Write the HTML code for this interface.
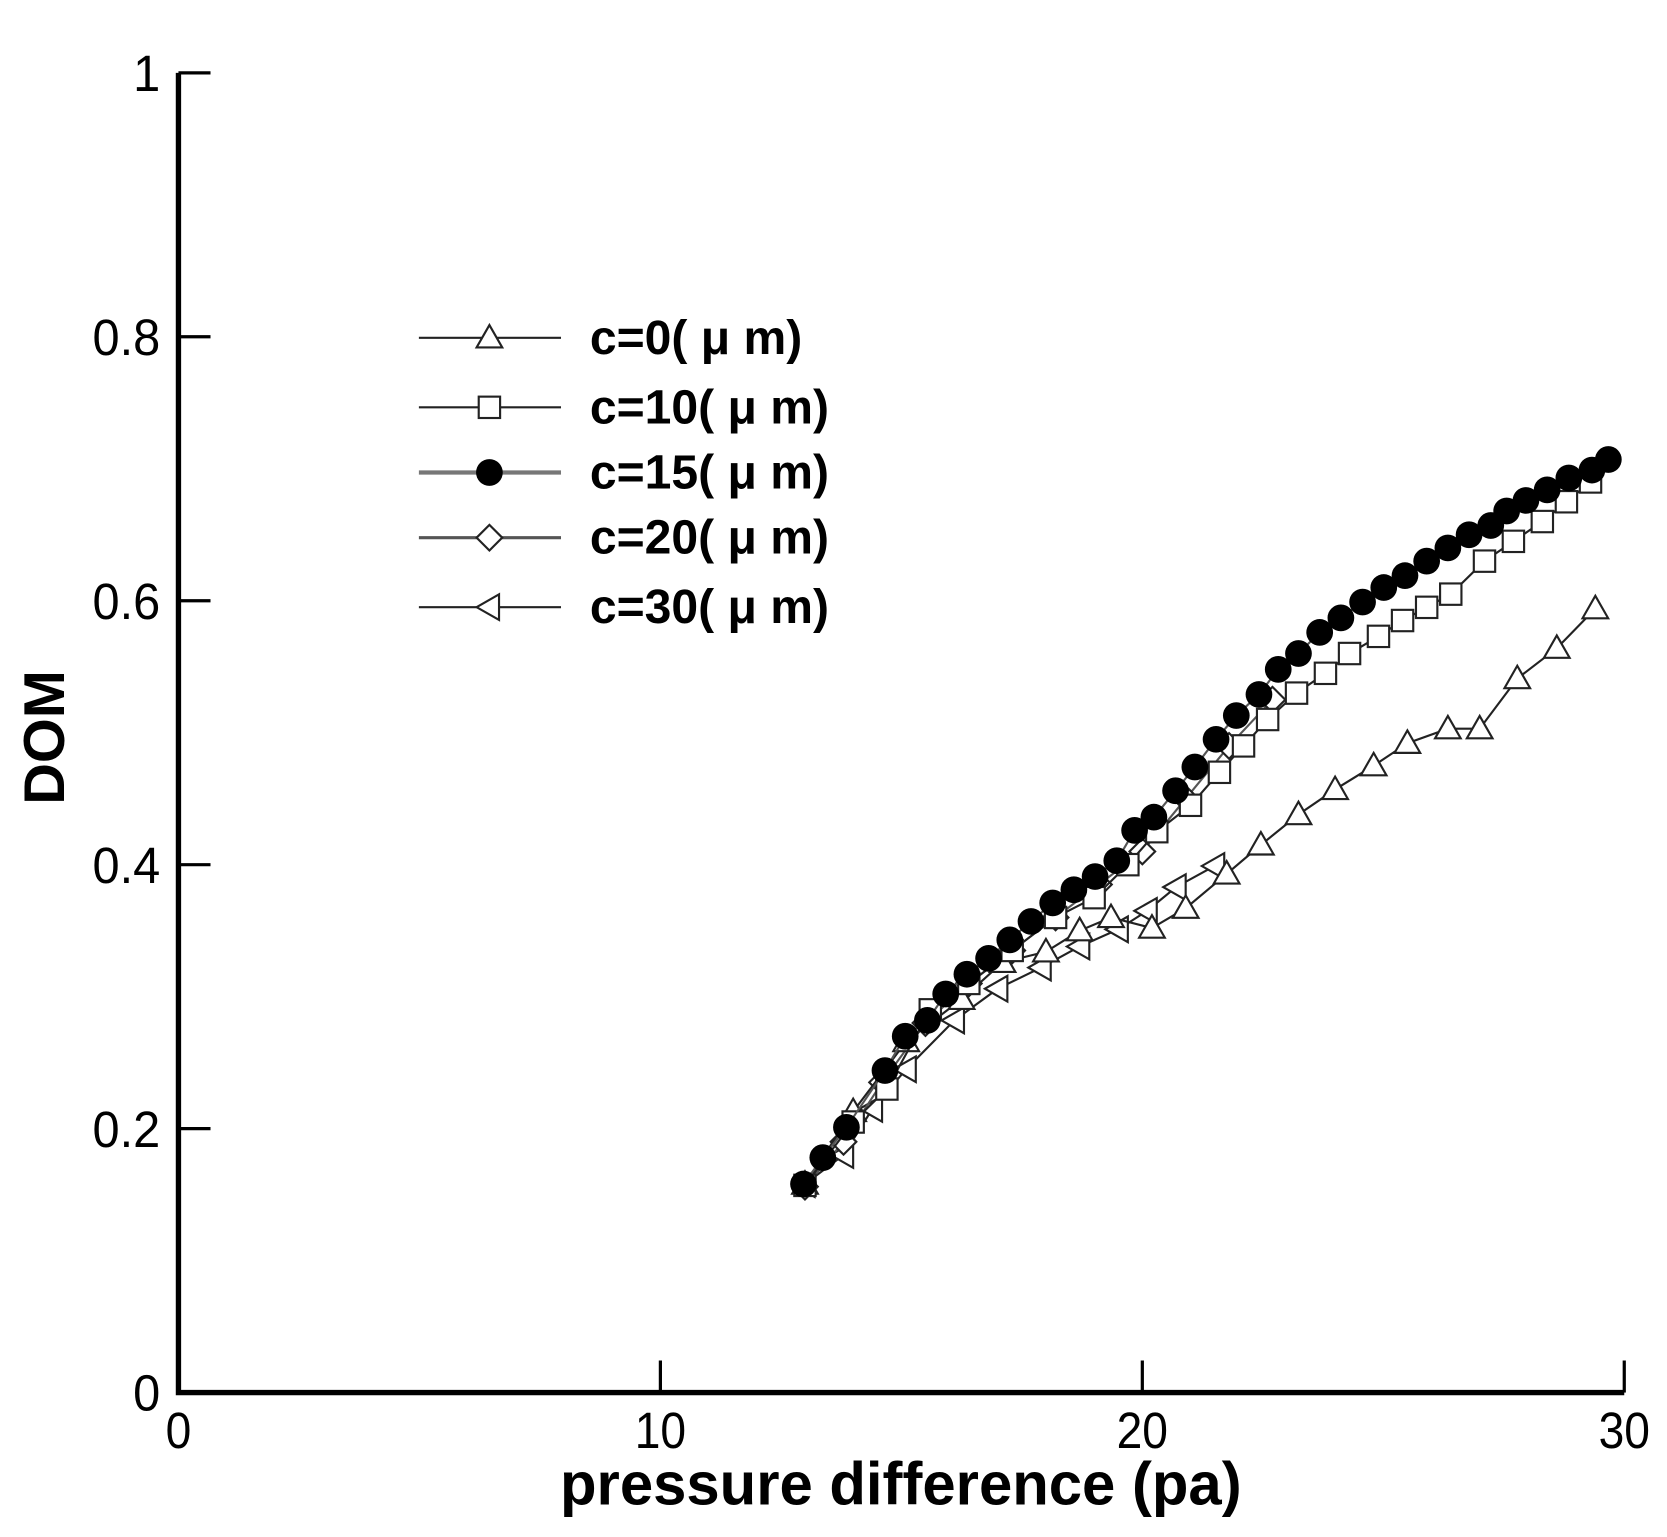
<!DOCTYPE html>
<html><head><meta charset="utf-8"><style>html,body{margin:0;padding:0;background:#fff}svg{display:block}</style></head>
<body>
<svg id="chart" width="1667" height="1537" viewBox="0 0 1560 1438" xmlns="http://www.w3.org/2000/svg" font-family="Liberation Sans, Arial, sans-serif">
<g id="axes"></g>
<g id="series"></g>
<g id="legend"></g>
</svg>
<script>
const xTicks = [0, 10, 20, 30];
const yTicks = [0, 0.2, 0.4, 0.6, 0.8, 1];
const yTickLabels = ["0", "0.2", "0.4", "0.6", "0.8", "1"];
const seriesNames = ["c=0( μ m)", "c=10( μ m)", "c=15( μ m)", "c=20( μ m)", "c=30( μ m)"];
const x15 = [12.97,13.37,13.86,14.66,15.08,15.54,15.92,16.36,16.81,17.25,17.69,18.14,18.58,19.02,19.47,19.84,20.24,20.69,21.09,21.53,21.95,22.42,22.82,23.24,23.68,24.12,24.57,25.01,25.45,25.90,26.34,26.78,27.23,27.56,27.96,28.40,28.85,29.33,29.67];
const y15 = [0.158,0.178,0.201,0.244,0.270,0.282,0.302,0.317,0.329,0.343,0.357,0.371,0.381,0.391,0.403,0.426,0.436,0.456,0.474,0.495,0.513,0.529,0.548,0.560,0.576,0.587,0.599,0.610,0.619,0.630,0.640,0.650,0.657,0.668,0.676,0.684,0.693,0.699,0.707];
const x10 = [13.0,14.0,14.7,15.6,16.4,17.3,18.2,19.0,19.7,20.3,21.0,21.6,22.1,22.6,23.2,23.8,24.3,24.9,25.4,25.9,26.4,27.1,27.7,28.3,28.8,29.3];
const y10 = [0.157,0.205,0.23,0.29,0.31,0.335,0.36,0.375,0.40,0.425,0.445,0.47,0.49,0.51,0.53,0.545,0.56,0.573,0.585,0.595,0.605,0.63,0.645,0.66,0.675,0.69];
const x20 = [13.0,13.8,14.6,15.5,16.4,17.3,18.2,19.1,20.0,20.9,21.8,22.7];
const y20 = [0.156,0.19,0.235,0.28,0.31,0.335,0.36,0.385,0.41,0.45,0.49,0.525];
const x0 = [13.0,14.0,15.1,16.25,17.1,18.0,18.7,19.35,20.2,20.9,21.75,22.46,23.24,24.0,24.8,25.5,26.34,27.0,27.78,28.6,29.4];
const y0 = [0.158,0.213,0.266,0.298,0.326,0.334,0.35,0.36,0.352,0.367,0.393,0.415,0.438,0.457,0.475,0.492,0.503,0.503,0.541,0.564,0.594];
const x30 = [13.0,13.8,14.4,15.1,16.1,17.0,17.9,18.7,19.5,20.1,20.7,21.5];
const y30 = [0.158,0.18,0.215,0.245,0.282,0.306,0.322,0.338,0.351,0.365,0.383,0.399];

const NS = "http://www.w3.org/2000/svg";
const X0 = 167, X1 = 1520, Y0 = 1303, Y1 = 68;
function sx(v){ return X0 + (v - 0) / 30 * (X1 - X0); }
function sy(v){ return Y0 - v * (Y0 - Y1); }
function mk(tag, attrs, parent){ const e = document.createElementNS(NS, tag); for (const k in attrs) e.setAttribute(k, attrs[k]); parent.appendChild(e); return e; }

const axes = document.getElementById('axes');
let e = mk('path', {d:`M${X0},${Y1} V${Y0} H${X1}`, fill:'none', stroke:'#000', 'stroke-width':5}, axes);


xTicks.forEach((t) => {
  const l = mk('line', {x1:sx(t), x2:sx(t), y1:Y0, y2:Y0-30, stroke:'#000', 'stroke-width':3}, axes);
  
  
  const tx = mk('text', {x:sx(t), y:Y0+52, 'font-size':48, 'text-anchor':'middle', transform:`translate(${sx(t)},0) scale(0.9,1) translate(${-sx(t)},0)`}, axes);
  tx.textContent = String(t);
  
  
});
yTicks.forEach((t, i) => {
  const l = mk('line', {x1:X0, x2:X0+30, y1:sy(t), y2:sy(t), stroke:'#000', 'stroke-width':3}, axes);
  
  
  const tx = mk('text', {x:150, y:sy(t)+17, 'font-size':48, 'text-anchor':'end', transform:`translate(150,0) scale(0.95,1) translate(-150,0)`}, axes);
  tx.textContent = yTickLabels[i];
  
  
});
let xt = mk('text', {x:843, y:1408, 'font-size':56, 'font-weight':'bold', 'text-anchor':'middle'}, axes);
xt.textContent = 'pressure difference (pa)';


let yt = mk('text', {x:0, y:0, 'font-size':54, 'font-weight':'bold', 'text-anchor':'middle', transform:'translate(60,690) rotate(-90)'}, axes);
yt.textContent = 'DOM';



function marker(type, cx, cy, parent){
  let m;
  if (type === 'tri') m = mk('polygon', {points:`${cx},${cy-12} ${cx-12},${cy+9} ${cx+12},${cy+9}`, fill:'#fff', stroke:'#222', 'stroke-width':2}, parent);
  else if (type === 'sq') m = mk('rect', {x:cx-10, y:cy-10, width:20, height:20, fill:'#fff', stroke:'#222', 'stroke-width':2}, parent);
  else if (type === 'circ') m = mk('circle', {cx:cx, cy:cy, r:12.5, fill:'#000'}, parent);
  else if (type === 'dia') m = mk('polygon', {points:`${cx},${cy-12} ${cx+12},${cy} ${cx},${cy+12} ${cx-12},${cy}`, fill:'#fff', stroke:'#222', 'stroke-width':2}, parent);
  else m = mk('polygon', {points:`${cx-12},${cy} ${cx+9},${cy-12} ${cx+9},${cy+12}`, fill:'#fff', stroke:'#222', 'stroke-width':2}, parent);
  return m;
}
const sdefs = [
  {xs:x30, ys:y30, m:'ltri', name:'series-c30', col:'#222'},
  {xs:x20, ys:y20, m:'dia', name:'series-c20', col:'#555'},
  {xs:x0, ys:y0, m:'tri', name:'series-c0', col:'#222'},
  {xs:x10, ys:y10, m:'sq', name:'series-c10', col:'#222'},
  {xs:x15, ys:y15, m:'circ', name:'series-c15', col:'#555'}
];
const sg = document.getElementById('series');
sdefs.forEach(s => {
  const g = mk('g', {}, sg);
  
  
  const pts = s.xs.map((x, i) => `${sx(x)},${sy(s.ys[i])}`).join(' ');
  const pl = mk('polyline', {points:pts, fill:'none', stroke:s.col, 'stroke-width':2}, g);
  
  
  s.xs.forEach((x, i) => {
    const m = marker(s.m, sx(x), sy(s.ys[i]), g);
    
    
  });
});

const lg = document.getElementById('legend');
const legM = ['tri', 'sq', 'circ', 'dia', 'ltri'];
const legY = [316, 381, 442, 503, 568];
const legCol = ['#222', '#222', '#777', '#555', '#222'];
const legW = [2, 2, 4, 3, 2];
seriesNames.forEach((n, i) => {
  const g = mk('g', {}, lg);
  
  
  mk('line', {x1:392, x2:525, y1:legY[i], y2:legY[i], stroke:legCol[i], 'stroke-width':legW[i]}, g);
  marker(legM[i], 458, legY[i], g);
  const t = mk('text', {x:552, y:legY[i]+15, 'font-size':45, 'font-weight':'bold', 'xml:space':'preserve'}, g);
  t.setAttribute('style', 'white-space:pre');
  t.textContent = n;
});
</script>
</body></html>
